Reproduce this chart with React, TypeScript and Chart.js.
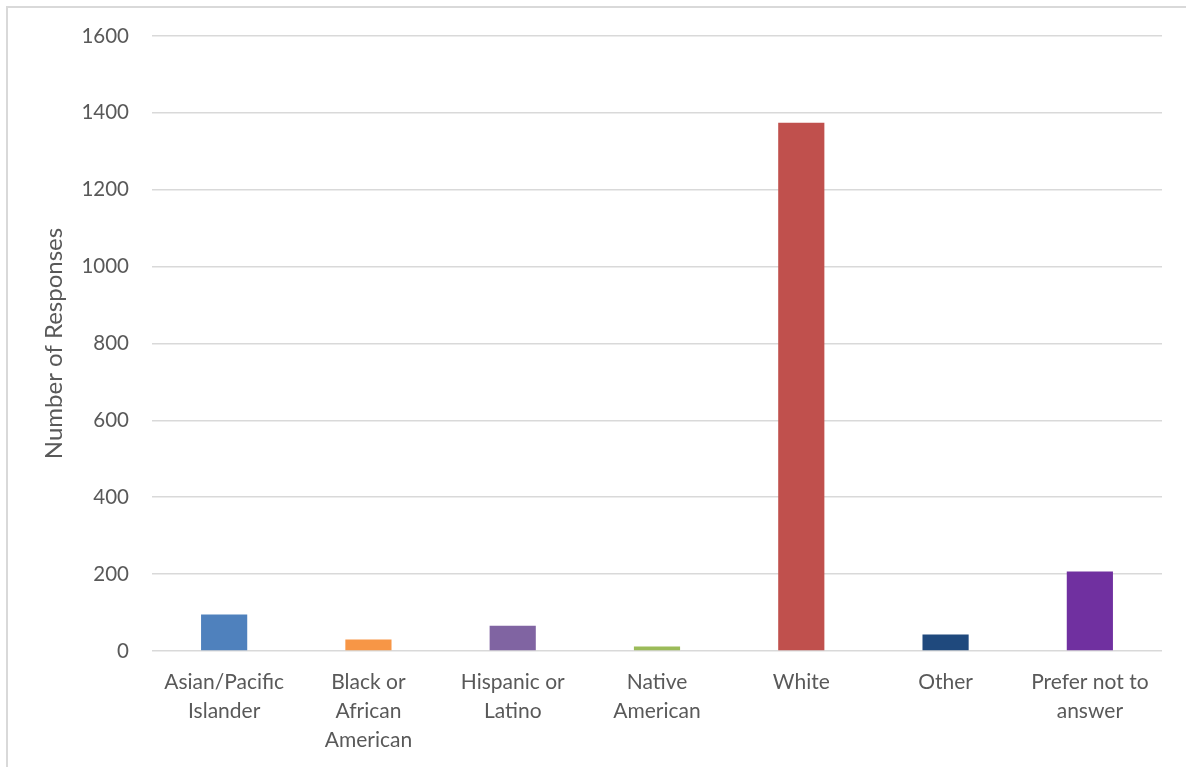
import React, { useEffect, useRef } from "react";
import { Chart, registerables } from "chart.js";

Chart.register(...registerables);

// Response counts by self-reported race / ethnicity
const categories: string[][] = [
  ["Asian/Pacific", "Islander"],
  ["Black or", "African", "American"],
  ["Hispanic or", "Latino"],
  ["Native", "American"],
  ["White"],
  ["Other"],
  ["Prefer not to", "answer"],
];
const responses: number[] = [95, 30, 66, 12, 1374, 43, 207];
const barColors: string[] = [
  "#4F81BD",
  "#F79646",
  "#8064A2",
  "#9BBB59",
  "#C0504D",
  "#1F497D",
  "#7030A0",
];
const yTicks: number[] = [0, 200, 400, 600, 800, 1000, 1200, 1400, 1600];

const FONT = "Lato, 'Open Sans', sans-serif";
const TEXT = "#595959";

export default function App() {
  const canvasRef = useRef<HTMLCanvasElement | null>(null);

  useEffect(() => {
    if (!canvasRef.current) return;
    const chart = new Chart(canvasRef.current, {
      type: "bar",
      data: {
        labels: categories,
        datasets: [
          {
            label: "Number of Responses",
            data: responses,
            backgroundColor: barColors,
            borderWidth: 0,
            barPercentage: 0.32,
            categoryPercentage: 1,
          },
        ],
      },
      options: {
        animation: false,
        responsive: false,
        maintainAspectRatio: false,
        layout: { padding: { top: 36, right: 24, left: 0, bottom: 0 } },
        plugins: {
          legend: { display: false },
          tooltip: { enabled: false },
        },
        scales: {
          x: {
            grid: { display: false, drawTicks: false },
            border: { display: false },
            ticks: {
              color: TEXT,
              font: { family: FONT, size: 21, lineHeight: 1.38 },
              padding: 17,
              maxRotation: 0,
              autoSkip: false,
            },
            afterFit: (scale: any) => {
              scale.height = 116;
            },
          },
          y: {
            min: 0,
            max: 1600,
            afterBuildTicks: (scale: any) => {
              scale.ticks = yTicks.map((v) => ({ value: v }));
            },
            grid: { color: "#d9d9d9", lineWidth: 1.6, drawTicks: false },
            border: { display: false },
            ticks: {
              color: TEXT,
              font: { family: FONT, size: 20.5 },
              padding: 23,
              callback: (v: any) => String(v),
            },
            title: {
              display: true,
              text: "Number of Responses",
              color: TEXT,
              font: { family: FONT, size: 24 },
              padding: { top: 40, bottom: 0 },
            },
            afterFit: (scale: any) => {
              scale.width = 152;
            },
          },
        },
      },
    });
    return () => chart.destroy();
  }, []);

  return (
    <div
      style={{
        position: "absolute",
        left: 0,
        top: 0,
        width: 1186,
        height: 767,
        background: "#ffffff",
        overflow: "hidden",
      }}
    >
      <div
        style={{
          position: "absolute",
          left: 6,
          top: 6,
          width: 1200,
          height: 800,
          borderLeft: "2px solid #d9d9d9",
          borderTop: "2px solid #d9d9d9",
        }}
      />
      <canvas
        ref={canvasRef}
        width={1186}
        height={767}
        style={{ position: "absolute", left: 0, top: 0 }}
      />
    </div>
  );
}
